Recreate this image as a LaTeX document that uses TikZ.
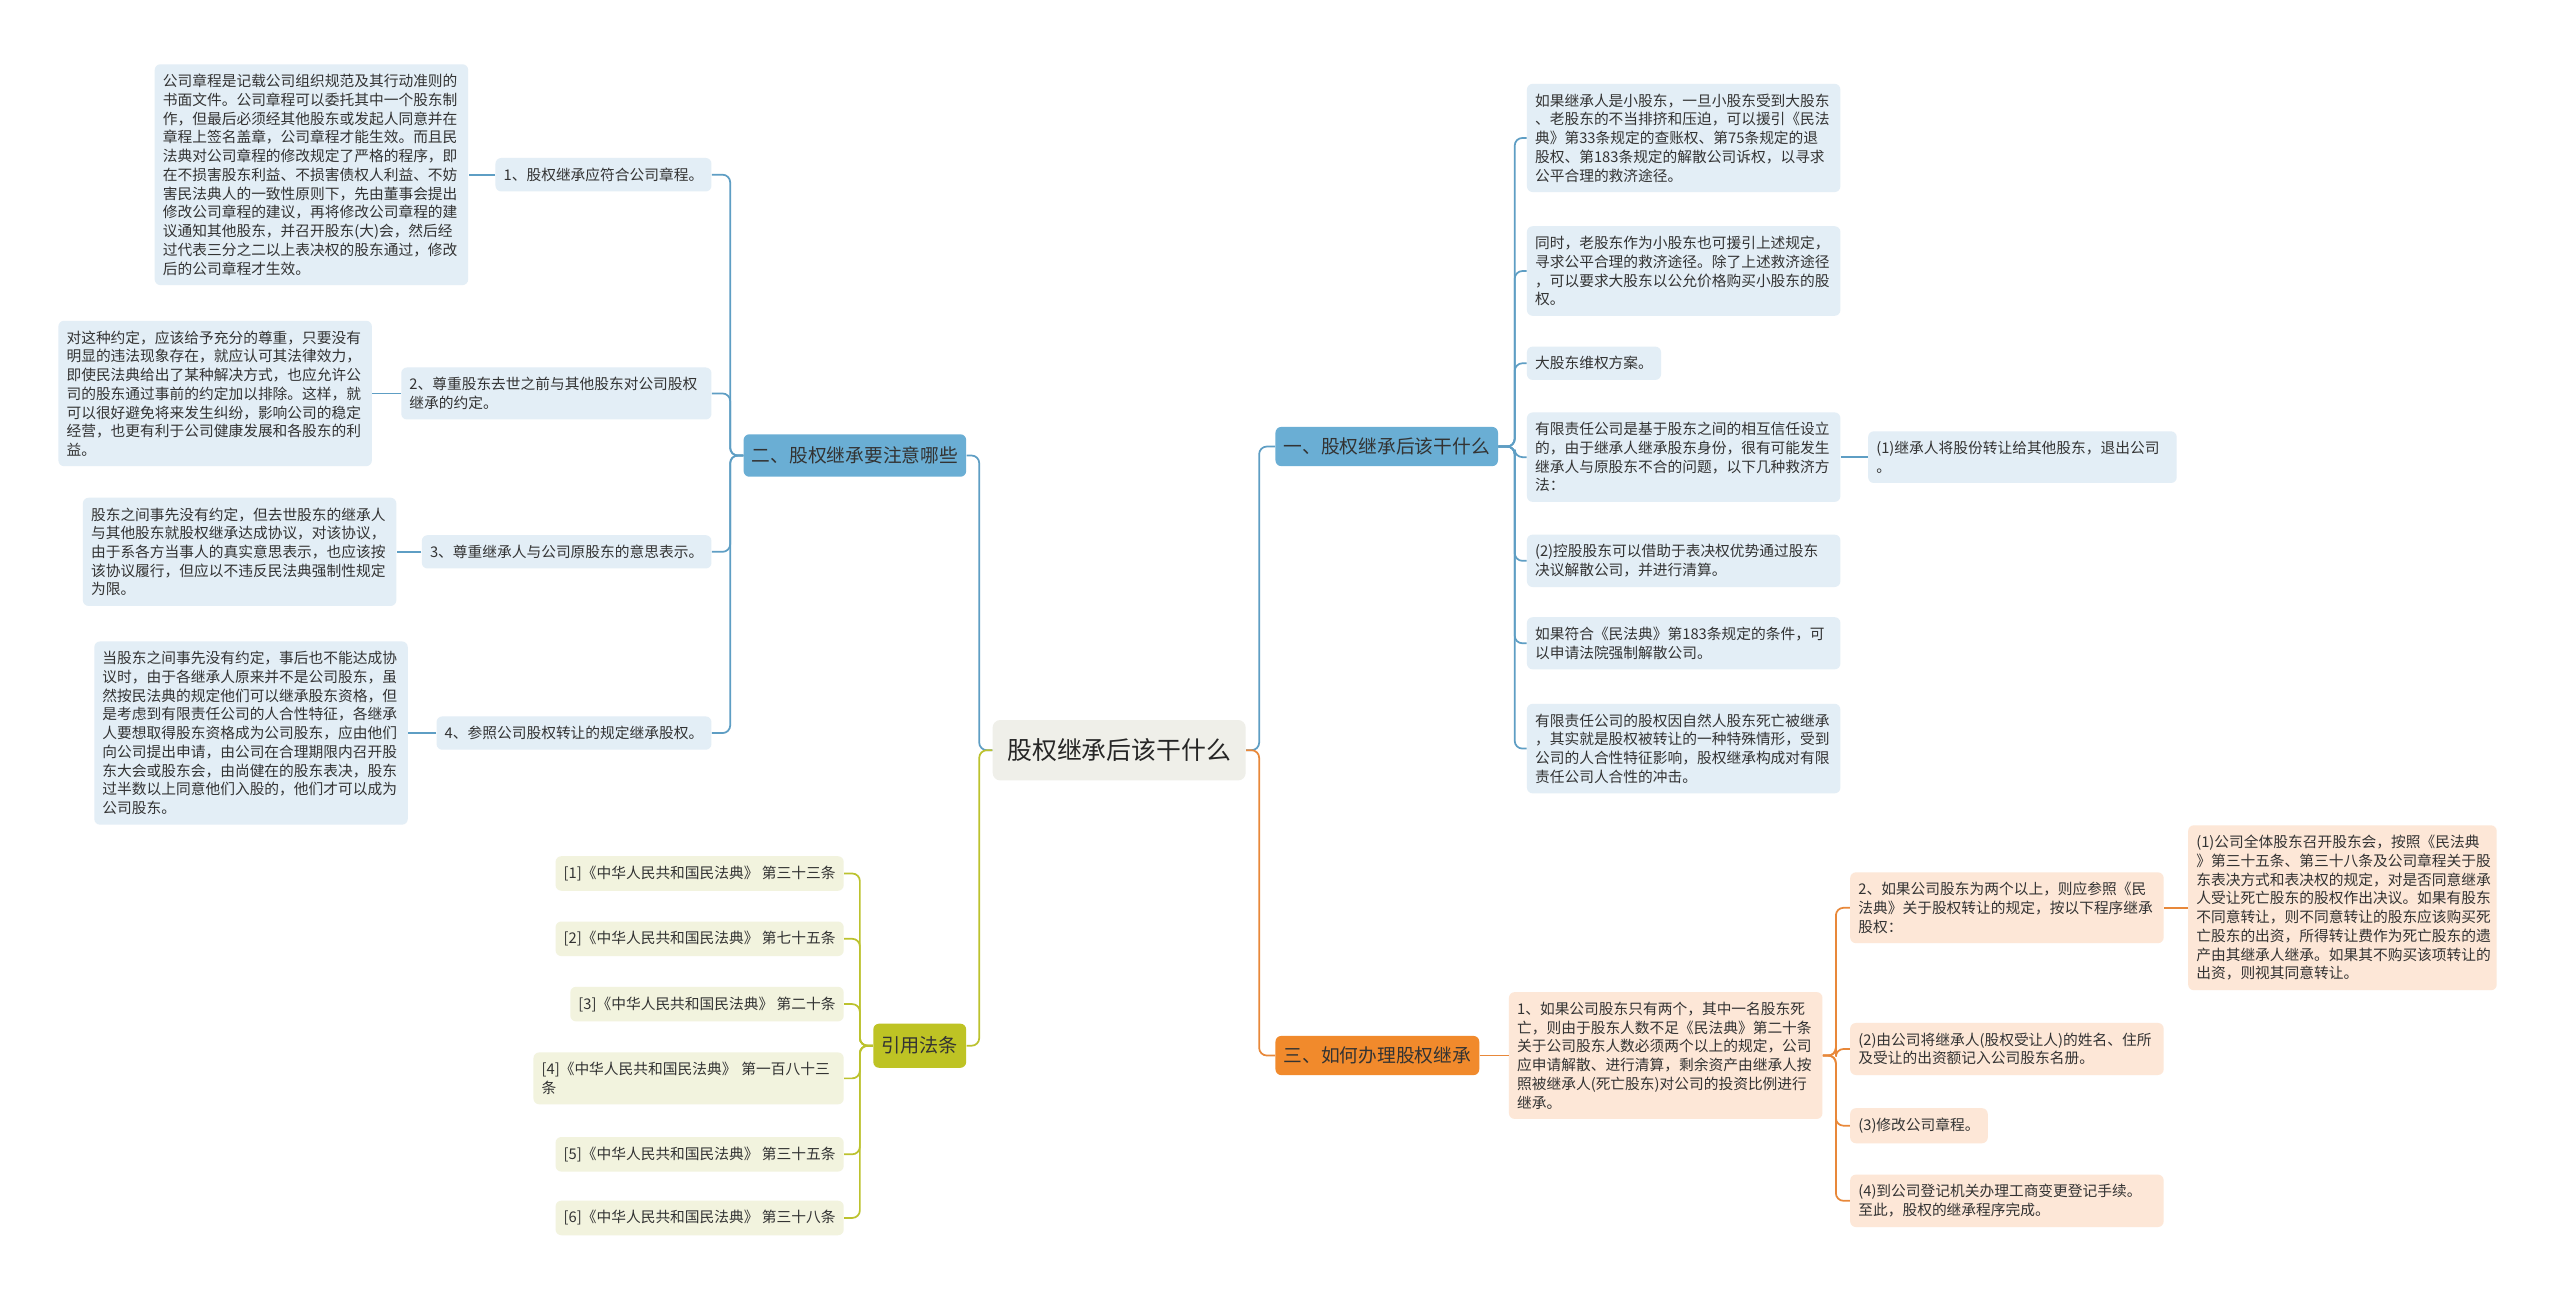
\documentclass[tikz,border=0pt]{standalone}
\usepackage{fontspec}
\setmainfont{Noto Sans CJK SC}
\usepackage{tikz}
\usetikzlibrary{positioning}
\definecolor{txt}{HTML}{333333}
\definecolor{bluemain}{HTML}{6AAED4}
\definecolor{blueline}{HTML}{5E9EC4}
\definecolor{bluelt}{HTML}{E3EEF6}
\definecolor{orgmain}{HTML}{F18A2C}
\definecolor{orgline}{HTML}{E8883A}
\definecolor{orglt}{HTML}{FDE7D7}
\definecolor{grnmain}{HTML}{BEC324}
\definecolor{grnline}{HTML}{BCC22E}
\definecolor{grnlt}{HTML}{F2F3DE}
\definecolor{rootfill}{HTML}{EFEFE9}
\newcommand\leaffont{\fontsize{7.7pt}{9.8pt}\selectfont}
\newcommand\mainfont{\fontsize{9.8pt}{11pt}\selectfont}

\begin{document}
\begin{tikzpicture}[x=0.3mm,y=-0.3mm,
  base/.style={rounded corners=3pt,inner xsep=1.5mm,inner ysep=1.8mm,text=txt,font=\leaffont,align=left},
  bleaf/.style={base,fill=bluelt},
  oleaf/.style={base,fill=orglt},
  gleaf/.style={base,fill=grnlt},
  wide/.style={text width=54.6mm},
  topic/.style={rounded corners=3pt,inner xsep=1.5mm,minimum height=7.2mm,text=txt,font=\mainfont},
  bline/.style={draw=blueline,line width=0.9pt,rounded corners=4pt},
  oline/.style={draw=orgline,line width=0.9pt,rounded corners=4pt},
  gline/.style={draw=grnline,line width=0.9pt,rounded corners=4pt}]
\fill[white] (0,0) rectangle (1568,796);

\node[rounded corners=4pt,fill=rootfill,minimum width=46.5mm,minimum height=11.1mm,text=black!85,font=\fontsize{13pt}{15pt}\selectfont] (root) at (685.5,459.5) {股权继承后该干什么};

\node[topic,fill=bluemain,anchor=west] (b1) at (781,273.5) {一、股权继承后该干什么};
\node[topic,fill=orgmain,anchor=west] (b3) at (781,646.5) {三、如何办理股权继承};
\node[topic,fill=bluemain,anchor=east,minimum height=7.8mm] (b2) at (592,279) {二、股权继承要注意哪些};
\node[topic,fill=grnmain,anchor=east,minimum height=8.1mm,font=\fontsize{10pt}{12pt}\selectfont] (law) at (592,640.5) {引用法条};

\node[bleaf,anchor=east] (c1) at (436,107) {1、股权继承应符合公司章程。};
\node[bleaf,anchor=east,text width=54mm] (c2) at (436,241) {2、尊重股东去世之前与其他股东对公司股权\\继承的约定。};
\node[bleaf,anchor=east] (c3) at (436,338) {3、尊重继承人与公司原股东的意思表示。};
\node[bleaf,anchor=east] (c4) at (436,449) {4、参照公司股权转让的规定继承股权。};

\node[bleaf,wide,anchor=east] (l1) at (287,107) {公司章程是记载公司组织规范及其行动准则的\\书面文件。公司章程可以委托其中一个股东制\\作，但最后必须经其他股东或发起人同意并在\\章程上签名盖章，公司章程才能生效。而且民\\法典对公司章程的修改规定了严格的程序，即\\在不损害股东利益、不损害债权人利益、不妨\\害民法典人的一致性原则下，先由董事会提出\\修改公司章程的建议，再将修改公司章程的建\\议通知其他股东，并召开股东(大)会，然后经\\过代表三分之二以上表决权的股东通过，修改\\后的公司章程才生效。};
\node[bleaf,wide,anchor=east] (l2) at (228,241) {对这种约定，应该给予充分的尊重，只要没有\\明显的违法现象存在，就应认可其法律效力，\\即使民法典给出了某种解决方式，也应允许公\\司的股东通过事前的约定加以排除。这样，就\\可以很好避免将来发生纠纷，影响公司的稳定\\经营，也更有利于公司健康发展和各股东的利\\益。};
\node[bleaf,wide,anchor=east] (l3) at (243,338) {股东之间事先没有约定，但去世股东的继承人\\与其他股东就股权继承达成协议，对该协议，\\由于系各方当事人的真实意思表示，也应该按\\该协议履行，但应以不违反民法典强制性规定\\为限。};
\node[bleaf,wide,anchor=east] (l4) at (250,449) {当股东之间事先没有约定，事后也不能达成协\\议时，由于各继承人原来并不是公司股东，虽\\然按民法典的规定他们可以继承股东资格，但\\是考虑到有限责任公司的人合性特征，各继承\\人要想取得股东资格成为公司股东，应由他们\\向公司提出申请，由公司在合理期限内召开股\\东大会或股东会，由尚健在的股东表决，股东\\过半数以上同意他们入股的，他们才可以成为\\公司股东。};

\node[bleaf,wide,anchor=west] (ra) at (935,84.5) {如果继承人是小股东，一旦小股东受到大股东\\、老股东的不当排挤和压迫，可以援引《民法\\典》第33条规定的查账权、第75条规定的退\\股权、第183条规定的解散公司诉权，以寻求\\公平合理的救济途径。};
\node[bleaf,wide,anchor=west] (rb) at (935,166) {同时，老股东作为小股东也可援引上述规定，\\寻求公平合理的救济途径。除了上述救济途径\\，可以要求大股东以公允价格购买小股东的股\\权。};
\node[bleaf,anchor=west] (rc) at (935,222.5) {大股东维权方案。};
\node[bleaf,wide,anchor=west] (rd) at (935,280) {有限责任公司是基于股东之间的相互信任设立\\的，由于继承人继承股东身份，很有可能发生\\继承人与原股东不合的问题，以下几种救济方\\法：};
\node[bleaf,anchor=west,text width=53.7mm] (rd1) at (1144,280) {(1)继承人将股份转让给其他股东，退出公司\\。};
\node[bleaf,wide,anchor=west] (re) at (935,343.5) {(2)控股股东可以借助于表决权优势通过股东\\决议解散公司，并进行清算。};
\node[bleaf,wide,anchor=west] (rf) at (935,394) {如果符合《民法典》第183条规定的条件，可\\以申请法院强制解散公司。};
\node[bleaf,wide,anchor=west] (rg) at (935,458.5) {有限责任公司的股权因自然人股东死亡被继承\\，其实就是股权被转让的一种特殊情形，受到\\公司的人合性特征影响，股权继承构成对有限\\责任公司人合性的冲击。};

\node[oleaf,wide,anchor=west] (o1) at (924,646.5) {1、如果公司股东只有两个，其中一名股东死\\亡，则由于股东人数不足《民法典》第二十条\\关于公司股东人数必须两个以上的规定，公司\\应申请解散、进行清算，剩余资产由继承人按\\照被继承人(死亡股东)对公司的投资比例进行\\继承。};
\node[oleaf,wide,anchor=west] (o2) at (1133,556) {2、如果公司股东为两个以上，则应参照《民\\法典》关于股权转让的规定，按以下程序继承\\股权：};
\node[oleaf,anchor=west,text width=53.7mm] (o2a) at (1340,556) {(1)公司全体股东召开股东会，按照《民法典\\》第三十五条、第三十八条及公司章程关于股\\东表决方式和表决权的规定，对是否同意继承\\人受让死亡股东的股权作出决议。如果有股东\\不同意转让，则不同意转让的股东应该购买死\\亡股东的出资，所得转让费作为死亡股东的遗\\产由其继承人继承。如果其不购买该项转让的\\出资，则视其同意转让。};
\node[oleaf,wide,anchor=west] (o3) at (1133,642.5) {(2)由公司将继承人(股权受让人)的姓名、住所\\及受让的出资额记入公司股东名册。};
\node[oleaf,anchor=west] (o4) at (1133,689.5) {(3)修改公司章程。};
\node[oleaf,wide,anchor=west] (o5) at (1133,735.5) {(4)到公司登记机关办理工商变更登记手续。\\至此，股权的继承程序完成。};

\node[gleaf,anchor=east] (f1) at (517,535) {[1]《中华人民共和国民法典》 第三十三条};
\node[gleaf,anchor=east] (f2) at (517,575) {[2]《中华人民共和国民法典》 第七十五条};
\node[gleaf,anchor=east] (f3) at (517,615) {[3]《中华人民共和国民法典》 第二十条};
\node[gleaf,anchor=east,text width=54mm] (f4) at (517,660.5) {[4]《中华人民共和国民法典》 第一百八十三\\条};
\node[gleaf,anchor=east] (f5) at (517,707) {[5]《中华人民共和国民法典》 第三十五条};
\node[gleaf,anchor=east] (f6) at (517,746) {[6]《中华人民共和国民法典》 第三十八条};

\draw[bline] (root.east) -- ++(8,0) |- (b1.west);
\draw[oline] (root.east) -- ++(8,0) |- (b3.west);
\draw[bline] (root.west) -- ++(-8,0) |- (b2.east);
\draw[gline] (root.west) -- ++(-8,0) |- (law.east);
\foreach \n in {c1,c2,c3,c4}{\draw[bline] (b2.west) -- ++(-8,0) |- (\n.east);}
\foreach \a/\b in {c1/l1,c2/l2,c3/l3,c4/l4}{\draw[bline] (\a.west) -- (\b.east);}
\foreach \n in {ra,rb,rc,rd,re,rf,rg}{\draw[bline] (b1.east) -- ++(10,0) |- (\n.west);}
\draw[bline] (rd.east) -- (rd1.west);
\draw[oline] (b3.east) -- (o1.west);
\foreach \n in {o2,o3,o4,o5}{\draw[oline] (o1.east) -- ++(8,0) |- (\n.west);}
\draw[oline] (o2.east) -- (o2a.west);
\foreach \n in {f1,f2,f3,f4,f5,f6}{\draw[gline] (law.west) -- ++(-8,0) |- (\n.east);}
\end{tikzpicture}
\end{document}
